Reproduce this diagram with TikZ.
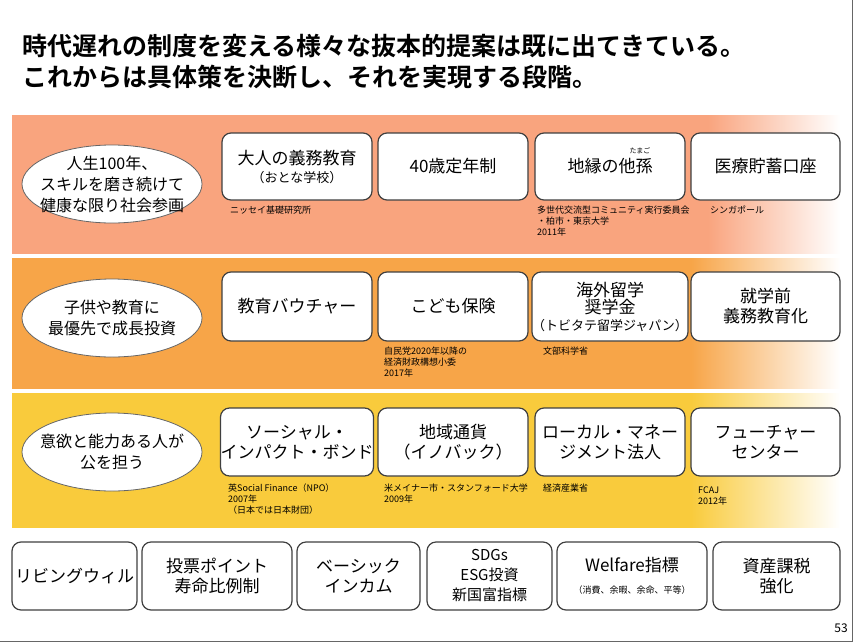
\documentclass[tikz,border=0pt]{standalone}
\usepackage{fontspec}
\setmainfont{Noto Sans CJK JP}
\newfontfamily\bfj{Noto Sans CJK JP}[BoldFont={* Bold}]
\usetikzlibrary{shapes.geometric}
\definecolor{ca}{HTML}{F9A47E}
\definecolor{cb}{HTML}{F7A548}
\definecolor{cc}{HTML}{F9CB3C}
\pgfdeclarehorizontalshading{bandA}{100bp}{color(0bp)=(ca);color(25bp)=(ca);color(67bp)=(ca);color(75bp)=(white);color(100bp)=(white)}
\pgfdeclarehorizontalshading{bandB}{100bp}{color(0bp)=(cb);color(25bp)=(cb);color(66bp)=(cb);color(75bp)=(white);color(100bp)=(white)}
\pgfdeclarehorizontalshading{bandC}{100bp}{color(0bp)=(cc);color(25bp)=(cc);color(66bp)=(cc);color(75bp)=(white);color(100bp)=(white)}
\tikzset{
 box/.style={draw=black!75,line width=1.2pt,rounded corners=9pt,fill=white,align=center,font=\fontsize{17}{20}\selectfont,inner sep=0pt},
 ell/.style={ellipse,draw=black!60,line width=0.8pt,fill=white,minimum width=180pt,minimum height=78pt,align=center,font=\fontsize{16}{21}\selectfont,inner xsep=-16pt,inner ysep=-10pt},
 note/.style={anchor=north west,align=left,font=\fontsize{9}{11}\selectfont,inner sep=0pt},
}
\newcommand{\bx}[5]{\node[box,minimum width=#3-#1,minimum height=#4-#2] (#5) at ({(#1+#3)/2},{(#2+#4)/2})}
\begin{document}
\begin{tikzpicture}[x=1pt,y=-1pt]
\useasboundingbox (0,0) rectangle (854,643);
\fill[white] (0,0) rectangle (854,643);
\node[anchor=west,font=\bfj\bfseries\fontsize{25}{31}\selectfont,align=left,inner sep=0pt] (title) at (22,62) {時代遅れの制度を変える様々な抜本的提案は既に出てきている。\\これからは具体策を決断し、それを実現する段階。};
\shade[shading=bandA] (12,115) rectangle (840,253);
\shade[shading=bandB] (12,258) rectangle (840,388);
\shade[shading=bandC] (12,393) rectangle (840,527);
\node[ell] (e1) at (112,184) {人生100年、\\スキルを磨き続けて\\健康な限り社会参画};
\node[ell] (e2) at (112,318) {子供や教育に\\最優先で成長投資};
\node[ell] (e3) at (112,452) {意欲と能力ある人が\\公を担う};
\bx{222}{133}{372}{200}{a1} {大人の義務教育\\[-2pt]{\fontsize{13}{16}\selectfont（おとな学校）}};
\bx{378}{133}{528}{200}{a2} {40歳定年制};
\bx{535}{133}{685}{200}{a3} {地縁の他孫};
\node[font=\fontsize{7}{8}\selectfont,inner sep=0pt] (ruby) at (640,151) {たまご};
\bx{691}{133}{840}{200}{a4} {医療貯蓄口座};
\bx{222}{272}{372}{341}{b1} {教育バウチャー};
\bx{378}{272}{528}{341}{b2} {こども保険};
\bx{535}{272}{685}{341}{b3} {海外留学\\[-3pt]奨学金\\[-3pt]{\fontsize{13}{16}\selectfont（トビタテ留学ジャパン）}};
\bx{691}{272}{840}{341}{b4} {就学前\\義務教育化};
\bx{222}{408}{372}{476}{c1} {ソーシャル・\\インパクト・ボンド};
\bx{378}{408}{528}{476}{c2} {地域通貨\\（イノバック）};
\bx{535}{408}{685}{476}{c3} {ローカル・マネー\\ジメント法人};
\bx{691}{408}{840}{476}{c4} {フューチャー\\センター};
\bx{12}{542}{137}{610}{d1} {リビングウィル};
\bx{142}{542}{292}{610}{d2} {投票ポイント\\寿命比例制};
\bx{297}{542}{420}{610}{d3} {ベーシック\\インカム};
\bx{427}{542}{552}{610}{d4} {\fontsize{15}{18}\selectfont SDGs\\\fontsize{15}{18}\selectfont ESG投資\\\fontsize{15}{18}\selectfont 新国富指標};
\bx{557}{542}{707}{610}{d5} {Welfare指標\\[2pt]{\fontsize{9}{11}\selectfont（消費、余暇、余命、平等）}};
\bx{713}{542}{840}{610}{d6} {資産課税\\強化};
\node[note] (n1) at (230,206) {ニッセイ基礎研究所};
\node[note] (n2) at (537,206) {多世代交流型コミュニティ実行委員会\\・柏市・東京大学\\2011年};
\node[note] (n3) at (710,206) {シンガポール};
\node[note] (n4) at (384,347) {自民党2020年以降の\\経済財政構想小委\\2017年};
\node[note] (n5) at (543,347) {文部科学省};
\node[note] (n6) at (228,484) {英Social Finance（NPO）\\2007年\\（日本では日本財団）};
\node[note] (n7) at (384,484) {米メイナー市・スタンフォード大学\\2009年};
\node[note] (n8) at (543,484) {経済産業省};
\node[note] (n9) at (698,487) {FCAJ\\2012年};
\node[font=\fontsize{12}{14}\selectfont,anchor=east,inner sep=0pt] (pg) at (848,628) {53};
\draw[black!60,line width=0.8pt] (0,641) -- (852,641) -- (852,0);
\end{tikzpicture}
\end{document}
